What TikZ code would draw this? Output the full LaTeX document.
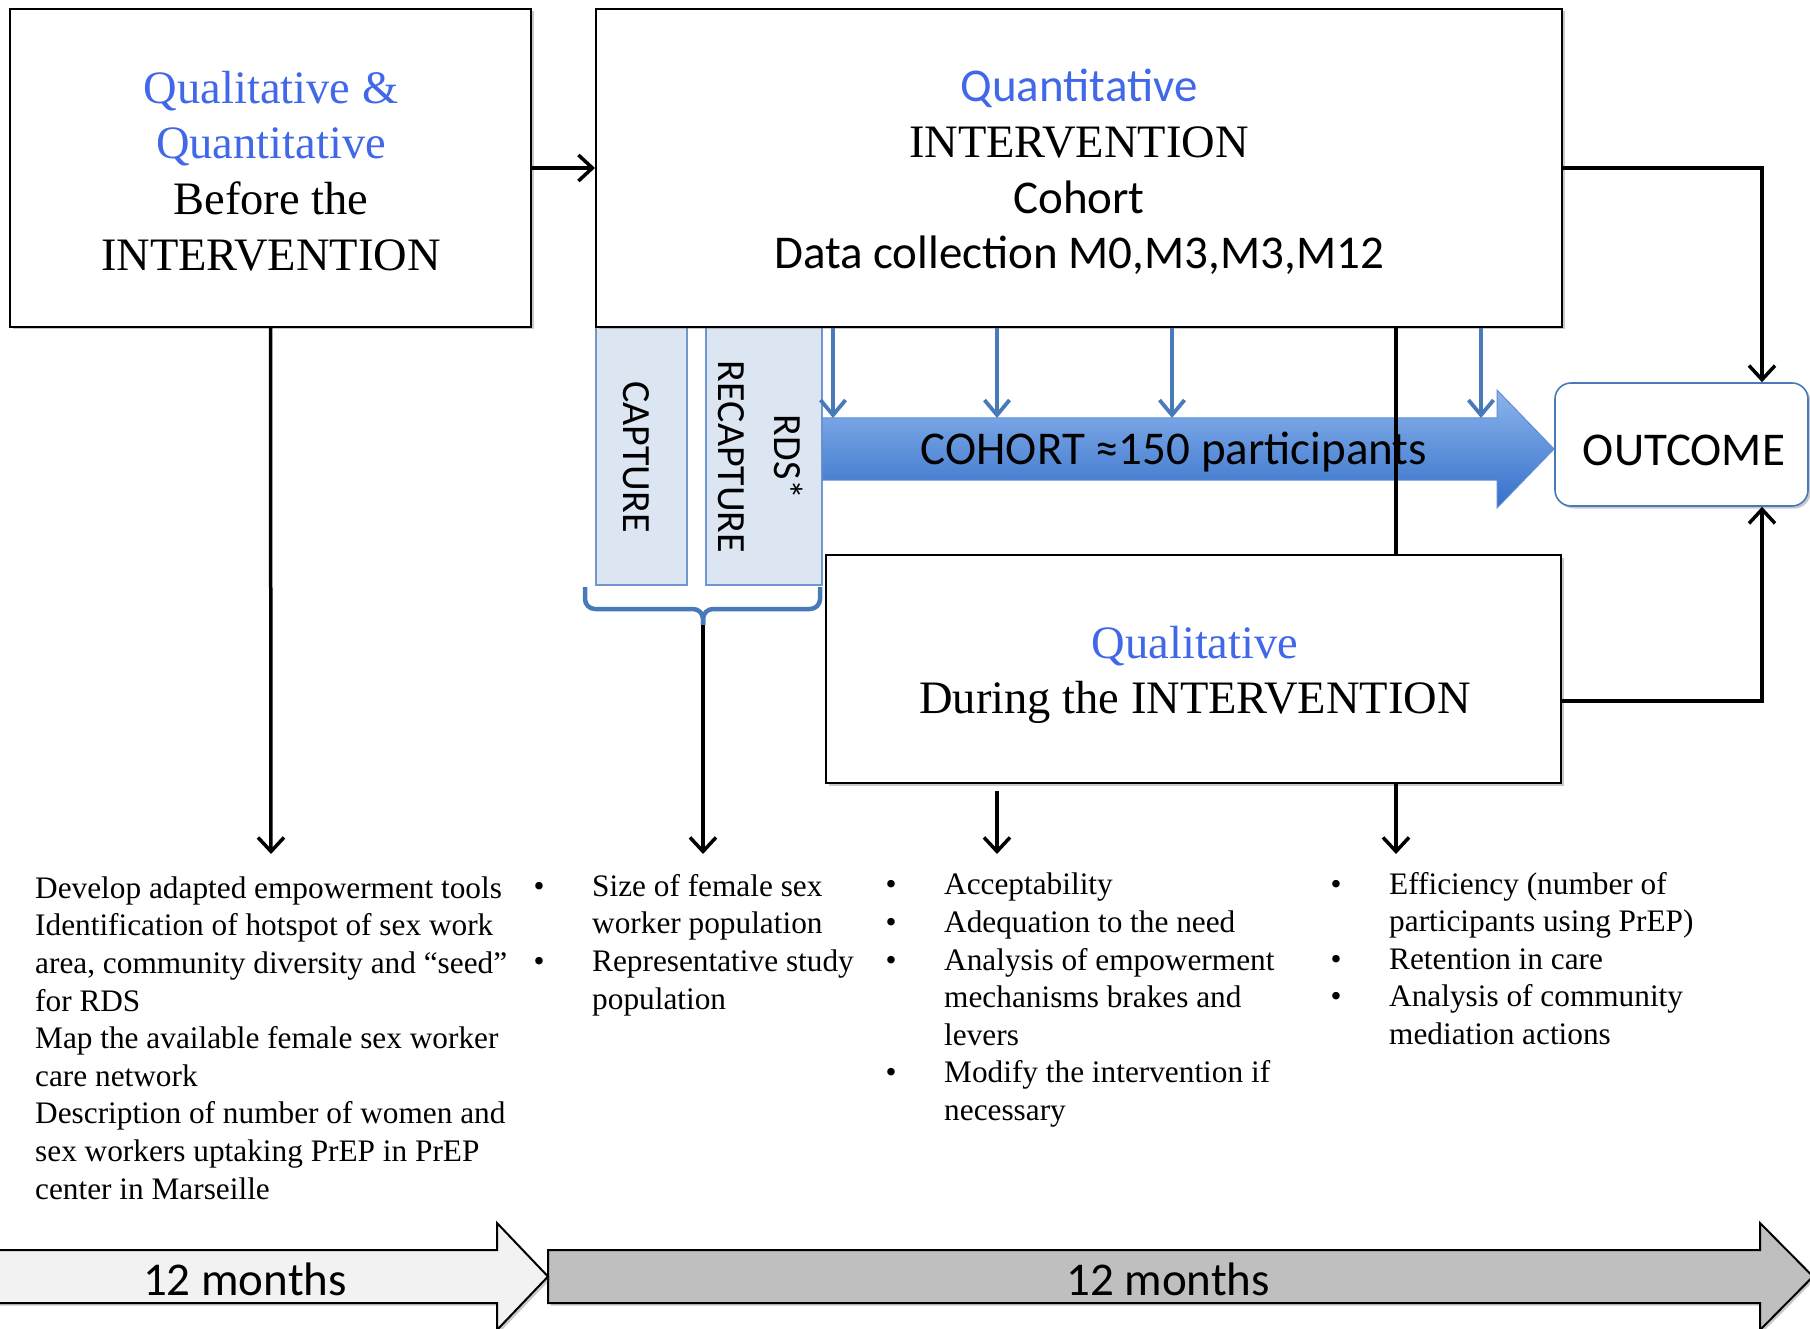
\documentclass[tikz,border=0pt]{standalone}
\usepackage{fontspec}
\setmainfont{Liberation Serif}
\setsansfont{Carlito}
\usetikzlibrary{arrows.meta,shadows}

\definecolor{titleblue}{RGB}{64,104,232}
\definecolor{capfill}{RGB}{220,230,242}
\definecolor{capedge}{RGB}{112,150,205}
\definecolor{steel}{RGB}{72,122,186}
\definecolor{arrowtop}{RGB}{140,180,236}
\definecolor{arrowbot}{RGB}{52,112,202}
\definecolor{arrowedge}{RGB}{96,142,212}
\definecolor{lightarrow}{RGB}{242,242,242}
\definecolor{darkarrow}{RGB}{191,191,191}

% bullet and continuation indents for the result lists
\newcommand{\bitem}{\makebox[58.5pt][l]{•}}
\newcommand{\bcont}{\hspace*{58.5pt}}
\newcommand{\sanstext}[1]{{\sffamily\fontsize{47}{55.7}\selectfont #1}}

\tikzset{
  softshadow/.style={drop shadow={shadow xshift=2.5pt,shadow yshift=-2.5pt,opacity=0.3,fill=black!70}},
  mainbox/.style={draw=black,line width=2pt,fill=white,softshadow,inner sep=0pt},
  capbox/.style={draw=capedge,line width=2pt,fill=capfill,inner sep=0pt},
  outbox/.style={draw=steel,line width=1.6pt,fill=white,rounded corners=16pt,softshadow,inner sep=0pt},
  titletxt/.style={align=center,inner sep=0pt,font=\fontsize{46.5}{55.7}\selectfont},
  sanslabel/.style={inner sep=0pt,font=\sffamily\fontsize{47}{56}\selectfont},
  captxt/.style={inner sep=0pt,align=center,rotate=-90,font=\sffamily\fontsize{40}{56}\selectfont},
  % anchored at the baseline of the last line
  listtxt/.style={align=left,inner sep=0pt,anchor=base west,font=\fontsize{31.3}{37.6}\selectfont},
  conn/.style={line width=3.5pt,line join=miter,-{Straight Barb[length=14pt,width=26pt]}},
  plainline/.style={line width=3.5pt},
  datatick/.style={draw=steel,line width=3.8pt,-{Straight Barb[length=15pt,width=25pt]}},
  bracepen/.style={draw=steel,line width=4.5pt,rounded corners=10pt},
  timeline/.style={draw=black,line width=2pt,softshadow},
}

\begin{document}
\begin{tikzpicture}[x=1pt,y=-1pt]
\useasboundingbox (0,0) rectangle (1810,1329);

% capture / recapture columns under the cohort box
\node[capbox,minimum width=91pt,minimum height=258pt] (capture) at (641.5,456) {};
\node[capbox,minimum width=116pt,minimum height=258pt] (rds) at (764,456) {};
\node[captxt] (capturetxt) at (636,457) {CAPTURE};
\node[captxt] (rdstxt) at (761,457) {RDS*\\RECAPTURE};

% the three phase boxes
\node[mainbox,minimum width=521pt,minimum height=318pt] (before) at (270.5,168) {};
\node[titletxt] (beforetxt) at (271,171)
  {\textcolor{titleblue}{Qualitative \&}\\\textcolor{titleblue}{Quantitative}\\Before the\\INTERVENTION};

\node[mainbox,minimum width=966pt,minimum height=318pt] (quant) at (1079,168) {};
\node[titletxt] (quanttxt) at (1079,172)
  {\sanstext{\textcolor{titleblue}{Quantitative}}\\INTERVENTION\\\sanstext{Cohort}\\\sanstext{Data collection M0,M3,M3,M12}};

\node[mainbox,minimum width=735pt,minimum height=228pt] (during) at (1193.5,669) {};
\node[titletxt] (duringtxt) at (1195,675)
  {\textcolor{titleblue}{Qualitative}\\During the INTERVENTION};

% outcome
\node[outbox,minimum width=253pt,minimum height=123pt] (outcome) at (1681.5,444.5) {};
\node[sanslabel] (outcometxt) at (1684,450) {OUTCOME};

% cohort arrow
\coordinate (cohorttail) at (822,449);
\coordinate (cohorttip) at (1554,449);
\draw[arrowedge,line width=1pt,top color=arrowtop,bottom color=arrowbot]
  (822,418) -- (1497,418) -- (1497,390) -- (cohorttip) -- (1497,508) -- (1497,480) -- (822,480) -- cycle;
\node[sanslabel] (cohortlbl) at (1174,452) {COHORT ≈150 participants};

% data collection ticks
\foreach \x/\n in {833/1,997/2,1172/3,1481/4}{
  \coordinate (tk\n) at (\x,418);
  \draw[datatick] (tk\n |- quant.south) -- (tk\n);
}

% brace gathering capture and recapture
\coordinate (bracetip) at (703,625);
\draw[bracepen] (585,587) -- (585,609) -- (703,609) -- (bracetip);
\draw[bracepen] (bracetip) -- (703,609) -- (820,609) -- (820,587);

% connectors
\coordinate (endA) at (271,854);
\coordinate (endB) at (703,854);
\coordinate (endC) at (997,854);
\coordinate (endD) at (1396,854);
\coordinate (rail) at (1762,0);

\draw[conn] (before.east) -- (quant.west);
\draw[conn] (before.south) -- (endA);
\draw[conn] (bracetip) -- (endB);
\draw[conn] ([yshift=-7pt]endC |- during.south) -- (endC);
\draw[conn] (endD |- during.south) -- (endD);
\draw[plainline] (endD |- quant.south) -- (endD |- during.north);
\draw[conn] (quant.east) -| (rail |- outcome.north);
\draw[conn] ([yshift=-32pt]during.east) -| (rail |- outcome.south);

% result lists
\node[listtxt] (beforelist) at (35,1199)
  {Develop adapted empowerment tools\\
   Identification of hotspot of sex work\\
   area, community diversity and “seed”\\
   for RDS\\
   Map the available female sex worker\\
   care network\\
   Description of number of women and\\
   sex workers uptaking PrEP in PrEP\\
   center in Marseille};

\node[listtxt] (capturelist) at (533.5,1009)
  {\bitem Size of female sex\\
   \bcont worker population\\
   \bitem Representative study\\
   \bcont population};

\node[listtxt] (duringlist) at (885.5,1120.5)
  {\bitem Acceptability\\
   \bitem Adequation to the need\\
   \bitem Analysis of empowerment\\
   \bcont mechanisms brakes and\\
   \bcont levers\\
   \bitem Modify the intervention if\\
   \bcont necessary};

\node[listtxt] (outcomelist) at (1330.5,1044.5)
  {\bitem Efficiency (number of\\
   \bcont participants using PrEP)\\
   \bitem Retention in care\\
   \bitem Analysis of community\\
   \bcont mediation actions};

% time line
\draw[timeline,fill=darkarrow]
  (548,1250) -- (1760,1250) -- (1760,1223) -- (1813,1276.5) -- (1760,1330) -- (1760,1303) -- (548,1303) -- cycle;
\draw[timeline,fill=lightarrow]
  (-5,1250) -- (497,1250) -- (497,1223) -- (548,1276.5) -- (497,1330) -- (497,1303) -- (-5,1303) -- cycle;
\node[sanslabel] (firstyear) at (245,1279) {12 months};
\node[sanslabel] (secondyear) at (1168,1279) {12 months};
\end{tikzpicture}
\end{document}
